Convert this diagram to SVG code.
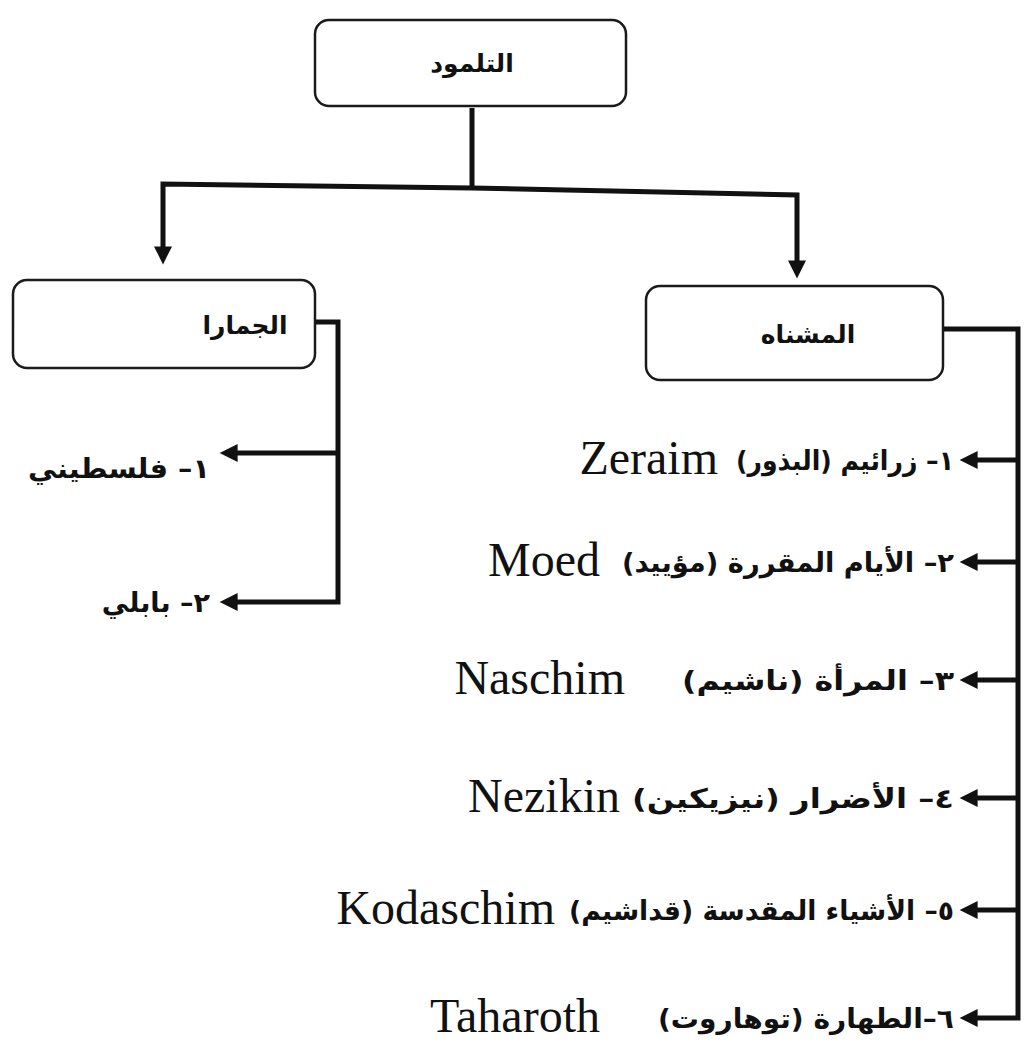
<svg xmlns="http://www.w3.org/2000/svg" width="1024" height="1043" viewBox="0 0 1024 1043">
  <style>
    .box { fill: #ffffff; stroke: #1a1a1a; stroke-width: 2.5; }
    .conn { fill: none; stroke: #111111; stroke-width: 5; stroke-linejoin: miter; }
    .ar { font-family: "DejaVu Sans", "Noto Sans", sans-serif; font-weight: bold; fill: #111111; }
    .lat { font-family: "Liberation Serif", "Times New Roman", serif; font-size: 48px; fill: #111111; text-anchor: end; }
    .title { font-size: 25px; text-anchor: middle; }
    .item { font-size: 27px; text-anchor: start; }
    .litem { font-size: 27px; text-anchor: start; }
  </style>
  <defs>
    <marker id="arrow" viewBox="0 0 10 10" refX="2" refY="5" markerWidth="4" markerHeight="3.6" markerUnits="strokeWidth" orient="auto">
      <path d="M0,0 L10,5 L0,10 Z" fill="#111111"/>
    </marker>
  </defs>
  <rect width="1024" height="1043" fill="#ffffff"/>

  <g id="connectors">
    <path class="conn" d="M472,108 V188"/>
    <path class="conn" d="M472,188 L163,184 V250" marker-end="url(#arrow)"/>
    <path class="conn" d="M472,188 L797,195 V264" marker-end="url(#arrow)"/>
    <path class="conn" d="M315,322 H338 V602 H234" marker-end="url(#arrow)"/>
    <path class="conn" d="M338,453 H234" marker-end="url(#arrow)"/>
    <path class="conn" d="M943,329 H1018 V1018 H974" marker-end="url(#arrow)"/>
    <path class="conn" d="M1018,460 H974" marker-end="url(#arrow)"/>
    <path class="conn" d="M1018,562 H974" marker-end="url(#arrow)"/>
    <path class="conn" d="M1018,680 H974" marker-end="url(#arrow)"/>
    <path class="conn" d="M1018,798 H974" marker-end="url(#arrow)"/>
    <path class="conn" d="M1018,910 H974" marker-end="url(#arrow)"/>
  </g>

  <g id="node-talmud">
    <rect class="box" x="315" y="20" width="311" height="86" rx="14"/>
    <text class="ar title" x="472" y="72" direction="rtl">التلمود</text>
  </g>

  <g id="node-gemara">
    <rect class="box" x="13" y="280" width="302" height="88" rx="14"/>
    <text class="ar title" x="245" y="334" direction="rtl">الجمارا</text>
  </g>

  <g id="node-mishna">
    <rect class="box" x="646" y="286" width="297" height="94" rx="14"/>
    <text class="ar title" x="808" y="343" direction="rtl">المشناه</text>
  </g>

  <g id="node-gemara-1">
    <text class="ar litem" x="210" y="478" direction="rtl" textLength="182" lengthAdjust="spacingAndGlyphs">١– فلسطيني</text>
  </g>
  <g id="node-gemara-2">
    <text class="ar litem" x="210" y="612" direction="rtl">٢– بابلي</text>
  </g>

  <g id="node-mishna-1">
    <text class="ar item" x="954" y="470" direction="rtl" textLength="218" lengthAdjust="spacingAndGlyphs">١– زرائيم (البذور)</text>
    <text class="lat" x="718" y="474">Zeraim</text>
  </g>
  <g id="node-mishna-2">
    <text class="ar item" x="954" y="572" direction="rtl" textLength="332" lengthAdjust="spacingAndGlyphs">٢– الأيام المقررة (مؤييد)</text>
    <text class="lat" x="600" y="576">Moed</text>
  </g>
  <g id="node-mishna-3">
    <text class="ar item" x="954" y="690" direction="rtl" textLength="272" lengthAdjust="spacingAndGlyphs">٣– المرأة (ناشيم)</text>
    <text class="lat" x="625" y="694">Naschim</text>
  </g>
  <g id="node-mishna-4">
    <text class="ar item" x="954" y="808" direction="rtl" textLength="322" lengthAdjust="spacingAndGlyphs">٤– الأضرار (نيزيكين)</text>
    <text class="lat" x="620" y="812">Nezikin</text>
  </g>
  <g id="node-mishna-5">
    <text class="ar item" x="954" y="920" direction="rtl" textLength="385" lengthAdjust="spacingAndGlyphs">٥– الأشياء المقدسة (قداشيم)</text>
    <text class="lat" x="555" y="924">Kodaschim</text>
  </g>
  <g id="node-mishna-6">
    <text class="ar item" x="954" y="1028" direction="rtl" textLength="296" lengthAdjust="spacingAndGlyphs">٦–الطهارة (توهاروت)</text>
    <text class="lat" x="600" y="1032">Taharoth</text>
  </g>
</svg>
